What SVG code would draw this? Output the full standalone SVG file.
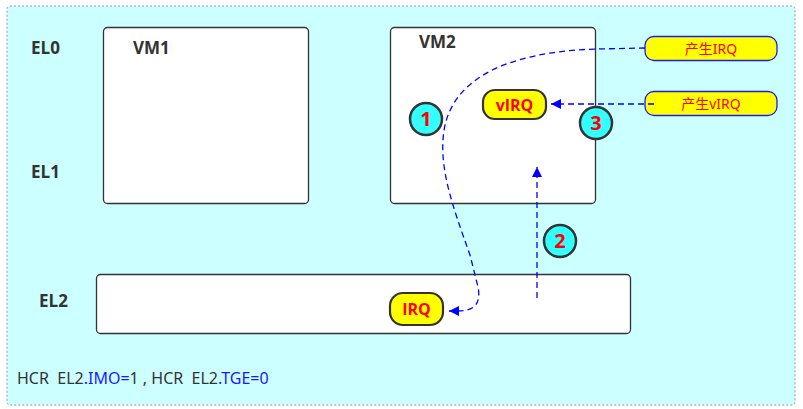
<svg xmlns="http://www.w3.org/2000/svg" width="803" height="409" viewBox="0 0 803 409">
<defs>
<style>
.lbl{font-family:"Open Sans","Noto Sans","Liberation Sans",sans-serif;font-weight:bold;font-size:17px;fill:#333}
.box{fill:#fff;stroke:#333;stroke-width:1.3}
.circ{fill:#33ffff;stroke:#333;stroke-width:2.5}
.num{font-family:"Open Sans","Noto Sans","Liberation Sans",sans-serif;font-weight:bold;font-size:20px;fill:#ff0000;text-anchor:middle}
.pill{fill:#ffff00;stroke:#333;stroke-width:2.2}
.pilltxt{font-family:"Open Sans","Noto Sans","Liberation Sans",sans-serif;font-weight:bold;font-size:16px;fill:#ff0000;text-anchor:middle}
.gen{fill:#ffff00;stroke:#1a1aff;stroke-width:1.3}
.gentxt{font-family:"Noto Sans","Noto Sans CJK SC",sans-serif;font-size:14px;fill:#ff0000;text-anchor:middle}
.conn{fill:none;stroke:#0000ff;stroke-width:1.3;stroke-dasharray:6 4}
.note{font-family:"Noto Sans","Open Sans","Liberation Sans",sans-serif;font-size:16px;fill:#333}
</style>
<marker id="ah" viewBox="0 0 10 10" refX="10" refY="5" markerWidth="11" markerHeight="10" markerUnits="userSpaceOnUse" orient="auto">
<path d="M0,0 L10,5 L0,10 z" fill="#0000ff"/>
</marker>
</defs>
<rect x="7" y="6" width="788" height="399" rx="3" fill="#ccffff" stroke="#999" stroke-width="1" stroke-dasharray="2 2"/>
<g id="labels">
<text class="lbl" x="31" y="54">EL0</text>
<text class="lbl" x="31" y="178">EL1</text>
<text class="lbl" x="39" y="307">EL2</text>
</g>
<g id="vm1">
<rect class="box" x="103.5" y="27.5" width="205" height="176" rx="4"/>
<text class="lbl" x="133" y="54">VM1</text>
</g>
<g id="vm2">
<rect class="box" x="390.5" y="27.5" width="205" height="176" rx="4"/>
<text class="lbl" x="419" y="48">VM2</text>
</g>
<g id="el2box">
<rect class="box" x="96.5" y="274.5" width="534" height="59" rx="4"/>
</g>
<g id="gen-irq">
<rect class="gen" x="645" y="36.5" width="132" height="24" rx="9"/>
<text class="gentxt" x="711" y="53.5">产生IRQ</text>
</g>
<g id="gen-virq">
<rect class="gen" x="645" y="91.5" width="132" height="24" rx="9"/>
<text class="gentxt" x="711" y="108.5">产生vIRQ</text>
</g>
<g id="connectors">
<path class="conn" d="M645,48 L596,49 C505,52 446,80 443,140 C441,172 452,205 470,255 L478,287 C481,302 476,311 458,311 L449,311" marker-end="url(#ah)"/>
<path class="conn" d="M537,298 L537,167" marker-end="url(#ah)"/>
<path class="conn" d="M654,104 L551,104" marker-end="url(#ah)"/>
</g>
<g id="virq">
<rect class="pill" x="483" y="90" width="63" height="29" rx="12"/>
<text class="pilltxt" x="514.5" y="110.5">vIRQ</text>
</g>
<g id="irq">
<rect class="pill" x="390" y="293" width="53" height="32" rx="13"/>
<text class="pilltxt" x="416.5" y="315">IRQ</text>
</g>
<g id="c1">
<circle class="circ" cx="426" cy="119" r="16"/>
<text class="num" x="426" y="126">1</text>
</g>
<g id="c3">
<circle class="circ" cx="596" cy="123" r="16"/>
<text class="num" x="596" y="130">3</text>
</g>
<g id="c2">
<circle class="circ" cx="560" cy="241" r="16"/>
<text class="num" x="560" y="248">2</text>
</g>
<g id="note">
<text class="note" x="17" y="384" xml:space="preserve">HCR  EL2<tspan fill="#1a1aff">.IMO=</tspan>1 , HCR  EL2<tspan fill="#1a1aff">.TGE=0</tspan></text>
</g>
</svg>
